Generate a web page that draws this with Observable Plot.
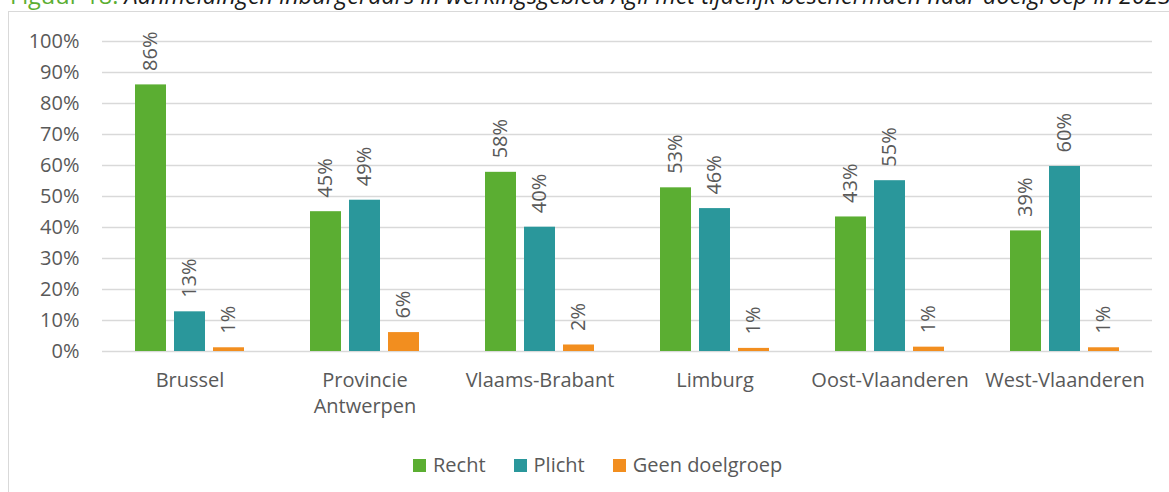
<!DOCTYPE html>
<html>
<head>
<meta charset="utf-8">
<script src="https://cdn.jsdelivr.net/npm/d3@7"></script>
<script src="https://cdn.jsdelivr.net/npm/@observablehq/plot@0.6"></script>
<style>
  html, body { margin: 0; padding: 0; background: #fff; }
  body { width: 1169px; height: 492px; position: relative; overflow: hidden; font-family: "Open Sans", sans-serif; }
  #title { position: absolute; left: 10px; top: -17px; font-size: 23.5px; line-height: 24px; white-space: nowrap; color: #1a1a1a; font-style: italic; }
  #title .lab { color: #5BAE32; font-style: normal; }
  #frame { position: absolute; left: 8px; top: 11px; width: 1300px; height: 600px; border-left: 1.5px solid #D9D9D9; border-top: 1.5px solid #D9D9D9; box-sizing: border-box; }
  #chart { position: absolute; left: 0; top: 0; }
  #legend { position: absolute; left: 413px; top: 452px; display: flex; align-items: center; font-size: 20px; line-height: 26px; color: #595959; }
  #legend .item { display: flex; align-items: center; margin-right: 28px; }
  #legend .sw { width: 13px; height: 13px; margin-right: 7px; }
</style>
</head>
<body>
<div id="frame"></div>
<div id="title"><span class="lab">Figuur 18: </span>Aanmeldingen inburgeraars in werkingsgebied Agii met tijdelijk beschermden naar doelgroep in 2023</div>
<div id="chart"></div>
<div id="legend"></div>
<script>
const categories = ["Brussel", "Provincie Antwerpen", "Vlaams-Brabant", "Limburg", "Oost-Vlaanderen", "West-Vlaanderen"];
const series = ["Recht", "Plicht", "Geen doelgroep"];
const recht = [86.0, 45.1, 57.8, 52.8, 43.4, 38.9];
const plicht = [12.8, 48.8, 40.1, 46.1, 55.1, 59.7];
const geen = [1.2, 6.1, 2.1, 1.0, 1.4, 1.2];
const colors = ["#5BAE32", "#2A979B", "#F28E1F"];
const yTicks = [0, 10, 20, 30, 40, 50, 60, 70, 80, 90, 100];

const seriesValues = [recht, plicht, geen];
const data = [];
categories.forEach((c, i) => {
  series.forEach((s, j) => {
    data.push({cat: c, series: s, value: seriesValues[j][i]});
  });
});

const chart = Plot.plot({
  width: 1169,
  height: 440,
  marginLeft: 102,
  marginRight: 17,
  marginTop: 41,
  marginBottom: 89,
  style: {fontFamily: "Open Sans", color: "#595959", background: "transparent", overflow: "visible"},
  fx: {domain: categories, padding: 0},
  x: {domain: series, paddingInner: 0.2, paddingOuter: 0.84, axis: null},
  y: {domain: [0, 100]},
  color: {domain: series, range: colors},
  marks: [
    Plot.gridY(yTicks, {stroke: "#D9D9D9", strokeOpacity: 1, strokeWidth: 1.5}),
    Plot.axisY(yTicks, {tickSize: 0, tickPadding: 23, fontSize: 20, fill: "#595959", tickFormat: d => d + "%", label: null}),
    Plot.axisFx({anchor: "bottom", tickSize: 0, tickPadding: 17, fontSize: 20, fill: "#595959", label: null, lineHeight: 1.3,
      tickFormat: d => d === "Provincie Antwerpen" ? "Provincie\nAntwerpen" : d}),
    Plot.barY(data, {fx: "cat", x: "series", y: "value", fill: "series"}),
    Plot.text(data, {fx: "cat", x: "series", y: "value", text: d => Math.round(d.value) + "%",
      rotate: -90, textAnchor: "start", dy: -14, fill: "#595959", fontSize: 20})
  ]
});
document.getElementById("chart").appendChild(chart);

const legend = document.getElementById("legend");
series.forEach((s, j) => {
  const item = document.createElement("div");
  item.className = "item";
  const sw = document.createElement("div");
  sw.className = "sw";
  sw.style.background = colors[j];
  const t = document.createElement("span");
  t.textContent = s;
  item.appendChild(sw);
  item.appendChild(t);
  legend.appendChild(item);
});
</script>
</body>
</html>
